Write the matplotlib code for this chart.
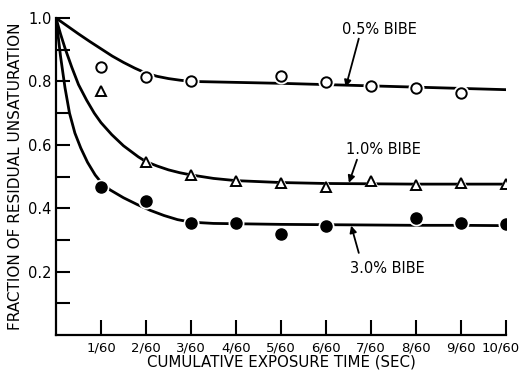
import matplotlib
matplotlib.use('Agg')
import matplotlib.pyplot as plt
import matplotlib.transforms as mtransforms

plt.rcParams['font.family'] = ['DejaVu Sans']

# tempo em unidades de 1/60 s
tempo = [1, 2, 3, 4, 5, 6, 7, 8, 9, 10]
rotulos_x = ['1/60', '2/60', '3/60', '4/60', '5/60', '6/60', '7/60', '8/60', '9/60', '10/60']

# pontos medidos
t_05 = [1, 2, 3, 5, 6, 7, 8, 9]
y_05 = [0.845, 0.815, 0.80, 0.817, 0.798, 0.786, 0.78, 0.762]
t_10 = [1, 2, 3, 4, 5, 6, 7, 8, 9, 10]
y_10 = [0.77, 0.545, 0.505, 0.486, 0.48, 0.467, 0.486, 0.473, 0.48, 0.476]
t_30 = [1, 2, 3, 4, 5, 6, 8, 9, 10]
y_30 = [0.467, 0.423, 0.353, 0.353, 0.32, 0.344, 0.37, 0.353, 0.35]

# curvas desenhadas a mao
c_t05 = [0, 0.25, 0.5, 0.75, 1.0, 1.25, 1.5, 1.75, 2.0, 2.25, 2.5, 2.75, 3.0, 4, 5, 6, 7, 8, 9, 10]
c_y05 = [1.0, 0.975, 0.950, 0.926, 0.903, 0.880, 0.860, 0.842, 0.826, 0.816, 0.809, 0.804, 0.800,
         0.797, 0.794, 0.790, 0.786, 0.782, 0.778, 0.774]
c_t10 = [0, 0.1, 0.2, 0.35, 0.5, 0.68, 0.85, 1.0, 1.24, 1.5, 1.83, 2.0, 2.25, 2.5, 2.75, 3.0, 3.5,
         4, 5, 6, 7, 8, 9, 10]
c_y10 = [1.0, 0.95, 0.905, 0.845, 0.79, 0.741, 0.70, 0.67, 0.632, 0.597, 0.562, 0.547, 0.533,
         0.521, 0.512, 0.505, 0.494, 0.487, 0.481, 0.478, 0.477, 0.476, 0.476, 0.476]
c_t30 = [0, 0.1, 0.2, 0.3, 0.42, 0.55, 0.7, 0.87, 1.0, 1.2, 1.5, 1.8, 2.1, 2.4, 2.7, 3.0, 3.5,
         4, 5, 6, 7, 8, 9, 10]
c_y30 = [1.0, 0.88, 0.78, 0.70, 0.637, 0.59, 0.545, 0.505, 0.482, 0.458, 0.433, 0.412, 0.393,
         0.377, 0.364, 0.356, 0.352, 0.351, 0.349, 0.348, 0.347, 0.346, 0.346, 0.345]

fig = plt.figure(figsize=(5.21, 3.72), dpi=100)
ax = fig.add_axes([0.1075, 0.0995, 0.8635, 0.852])

for ct, cy in [(c_t05, c_y05), (c_t10, c_y10), (c_t30, c_y30)]:
    ax.plot(ct, cy, color='k', lw=2, zorder=2, solid_joinstyle='round')

# halo branco em volta dos marcadores
for t, y, m in [(t_05, y_05, 'o'), (t_10, y_10, '^'), (t_30, y_30, 'o')]:
    ax.plot(t, y, ls='none', marker=m, ms=10.5, color='white', zorder=3)
ax.plot(t_05, y_05, ls='none', marker='o', ms=7.5, mfc='white', mec='k', mew=1.4, zorder=4)
ax.plot(t_10, y_10, ls='none', marker='^', ms=7.5, mfc='white', mec='k', mew=1.4, zorder=4)
ax.plot(t_30, y_30, ls='none', marker='o', ms=8, mfc='k', mec='k', zorder=4)

seta = dict(arrowstyle='-|>', color='k', lw=1.3, mutation_scale=10, shrinkA=0, shrinkB=0)
ax.text(7.2, 0.965, '0.5% BIBE', ha='center', va='center', fontsize=10.5)
ax.annotate('', xy=(6.44, 0.782), xytext=(6.73, 0.935), arrowprops=seta)
ax.text(7.28, 0.584, '1.0% BIBE', ha='center', va='center', fontsize=10.5)
ax.annotate('', xy=(6.51, 0.48), xytext=(6.69, 0.553), arrowprops=seta)
ax.text(7.36, 0.211, '3.0% BIBE', ha='center', va='center', fontsize=10.5)
ax.annotate('', xy=(6.56, 0.345), xytext=(6.73, 0.259), arrowprops=seta)

ax.set_xlim(0, 10)
ax.set_ylim(0, 1.0)
ax.set_xticks(tempo)
ax.set_xticklabels(rotulos_x, fontsize=9.5)
ax.set_yticks([0.2, 0.4, 0.6, 0.8, 1.0])
ax.set_yticklabels(['0.2', '0.4', '0.6', '0.8', '1.0'], fontsize=10.5)
ax.set_yticks([0.1, 0.3, 0.5, 0.7, 0.9], minor=True)
ax.tick_params(axis='both', which='both', direction='in', width=1.5)
ax.tick_params(axis='x', length=11, pad=5)
ax.tick_params(axis='y', which='both', length=10, pad=3)
ax.spines['top'].set_visible(False)
ax.spines['right'].set_visible(False)
ax.spines['left'].set_linewidth(1.6)
ax.spines['bottom'].set_linewidth(1.6)

# o ultimo rotulo fica um pouco para a esquerda, como no original
ultimo = ax.get_xticklabels()[-1]
ultimo.set_transform(ultimo.get_transform() +
                     mtransforms.ScaledTranslation(-3.5 / 72, 0, fig.dpi_scale_trans))

ax.set_xlabel('CUMULATIVE EXPOSURE TIME (SEC)', fontsize=10.8, labelpad=0)
ax.set_ylabel('FRACTION OF RESIDUAL UNSATURATION', fontsize=11, labelpad=4)

fig.savefig('out.png', dpi=100)
